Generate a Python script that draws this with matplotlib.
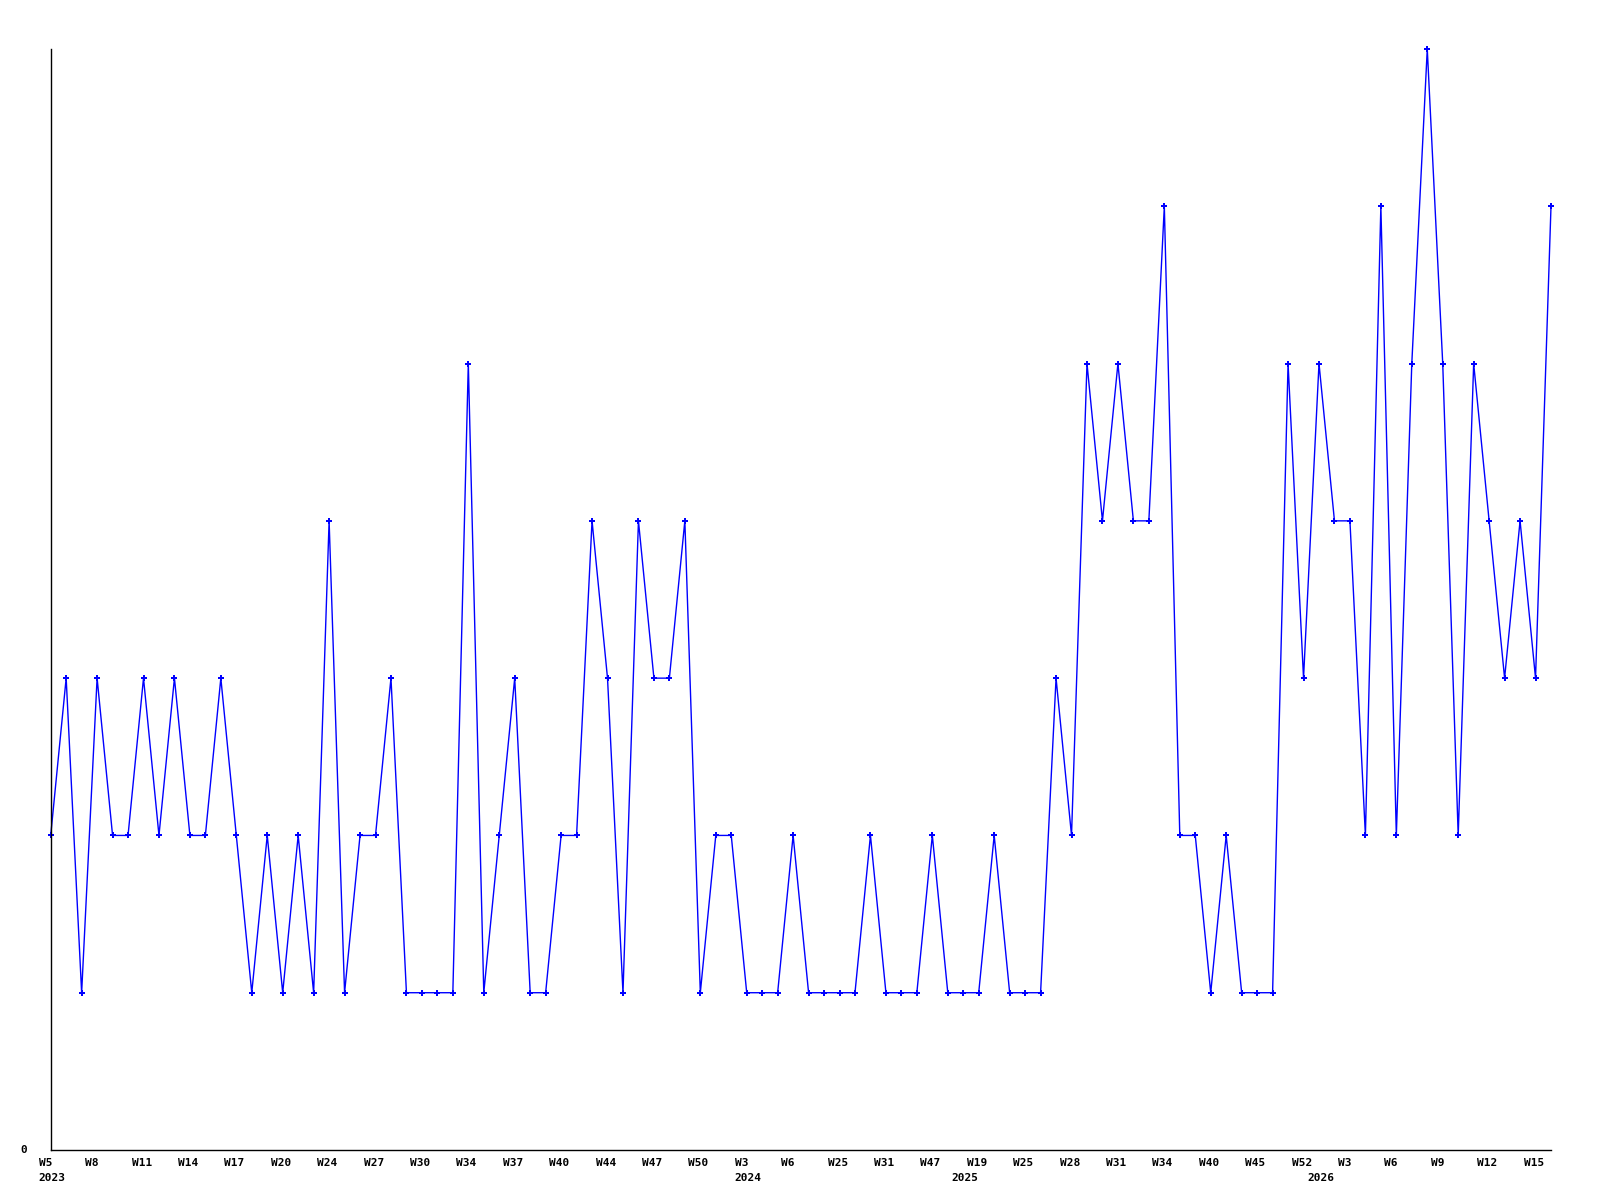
import matplotlib
matplotlib.use("Agg")
import matplotlib.pyplot as plt
import matplotlib.transforms as mtransforms

values = [2, 3, 1, 3, 2, 2, 3, 2, 3, 2,
          2, 3, 2, 1, 2, 1, 2, 1, 4, 1,
          2, 2, 3, 1, 1, 1, 1, 5, 1, 2,
          3, 1, 1, 2, 2, 4, 3, 1, 4, 3,
          3, 4, 1, 2, 2, 1, 1, 1, 2, 1,
          1, 1, 1, 2, 1, 1, 1, 2, 1, 1,
          1, 2, 1, 1, 1, 3, 2, 5, 4, 5,
          4, 4, 6, 2, 2, 1, 2, 1, 1, 1,
          5, 3, 5, 4, 4, 2, 6, 2, 5, 7,
          5, 2, 5, 4, 3, 4, 3, 6]

tick_positions = list(range(0, 98, 3))
tick_labels = ["W5", "W8", "W11", "W14", "W17", "W20", "W24", "W27", "W30",
               "W34", "W37", "W40", "W44", "W47", "W50", "W3", "W6", "W25",
               "W31", "W47", "W19", "W25", "W28", "W31", "W34", "W40", "W45",
               "W52", "W3", "W6", "W9", "W12", "W15"]
year_positions = [0, 45, 59, 82]
year_labels = ["2023", "2024", "2025", "2026"]

fig = plt.figure(figsize=(16, 12), dpi=100)
ax = fig.add_axes([50.7 / 1600, 1 - 1150 / 1200, (1551 - 50.7) / 1600, (1150 - 49) / 1200])

x = list(range(len(values)))
ax.plot(x, values, color="#0000ff", linewidth=1.0, marker="P", markersize=4,
        markeredgewidth=0, clip_on=False)

ax.set_xlim(0, len(values) - 1)
ax.set_ylim(0, 7)
for s in ("top", "right"):
    ax.spines[s].set_visible(False)
for s in ("left", "bottom"):
    ax.spines[s].set_color("black")
    ax.spines[s].set_linewidth(1.0)

font = dict(family="DejaVu Sans Mono", weight="bold", size=8)
ax.set_xticks(tick_positions)
ax.set_xticklabels([])
ax.set_yticks([])
ax.tick_params(axis="both", length=0)

blend = mtransforms.blended_transform_factory(ax.transData, ax.transAxes)
week_tr = mtransforms.offset_copy(blend, fig=fig, x=-12, y=-8, units="dots")
year_tr = mtransforms.offset_copy(blend, fig=fig, x=-12, y=-23, units="dots")
for p, lab in zip(tick_positions, tick_labels):
    ax.text(p, 0, lab, transform=week_tr, ha="left", va="top", clip_on=False, **font)
for p, lab in zip(year_positions, year_labels):
    ax.text(p, 0, lab, transform=year_tr, ha="left", va="top", clip_on=False, **font)

zero_tr = mtransforms.offset_copy(ax.transData, fig=fig, x=-27, y=0, units="dots")
ax.text(0, 0, "0", transform=zero_tr, ha="center", va="center", clip_on=False, **font)

fig.savefig("out.png", dpi=100, facecolor="white")
